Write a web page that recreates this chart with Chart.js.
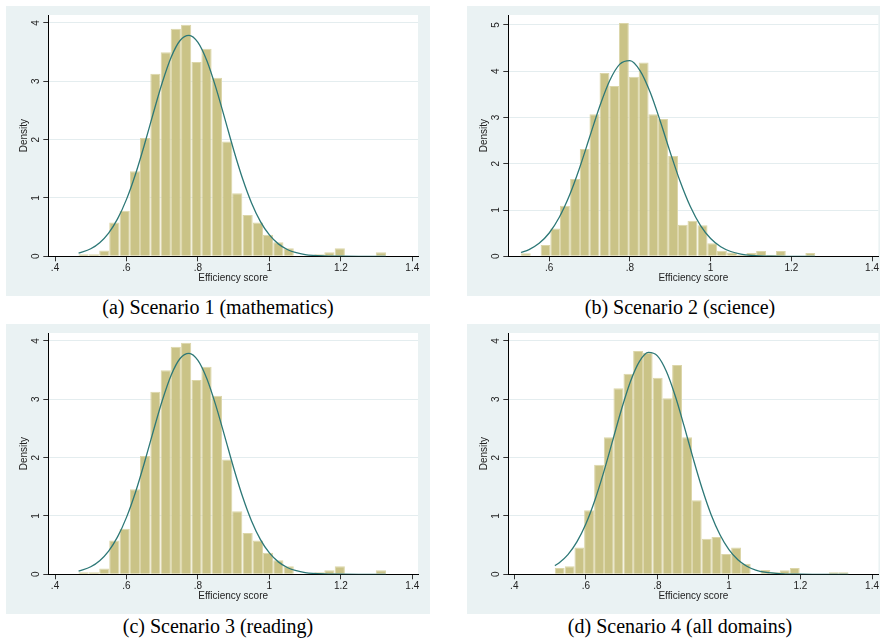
<!DOCTYPE html>
<html>
<head>
<meta charset="utf-8">
<title>Efficiency score histograms</title>
<script src="https://cdn.jsdelivr.net/npm/chart.js@4.4.0/dist/chart.umd.min.js"></script>
<style>
  body { margin: 0; background: #fff; width: 885px; height: 639px; position: relative; overflow: hidden; }
  canvas { position: absolute; }
  .cap { position: absolute; width: 400px; text-align: center; font-family: "Liberation Serif", "Times New Roman", serif; font-size: 20px; line-height: 20px; color: #000; white-space: nowrap; }
</style>
</head>
<body>
<canvas id="chartA" width="424" height="290" style="left:6px;top:6px"></canvas>
<canvas id="chartB" width="413" height="290" style="left:467px;top:6px"></canvas>
<canvas id="chartC" width="424" height="290" style="left:6px;top:324px"></canvas>
<canvas id="chartD" width="413" height="290" style="left:467px;top:324px"></canvas>
<div class="cap" style="left:18px;top:297px">(a) Scenario 1 (mathematics)</div>
<div class="cap" style="left:480px;top:297px">(b) Scenario 2 (science)</div>
<div class="cap" style="left:18px;top:616px">(c) Scenario 3 (reading)</div>
<div class="cap" style="left:480px;top:616px">(d) Scenario 4 (all domains)</div>
<script>
  // histogram bin centres and densities
  var mathBins = [0.480, 0.509, 0.538, 0.566, 0.595, 0.624, 0.652, 0.681, 0.710, 0.738,
                  0.767, 0.796, 0.824, 0.853, 0.882, 0.910, 0.939, 0.968, 0.996, 1.025,
                  1.054, 1.082, 1.111, 1.140, 1.168, 1.197, 1.226, 1.254, 1.283, 1.312];
  var mathDensity = [0.034, 0.034, 0.10, 0.58, 0.78, 1.46, 2.03, 3.13, 3.50, 3.90,
                     3.97, 3.33, 3.56, 3.06, 1.97, 1.08, 0.71, 0.58, 0.37, 0.24,
                     0.14, 0, 0, 0.034, 0.07, 0.14, 0, 0, 0, 0.07];

  var scienceBins = [0.542, 0.567, 0.591, 0.615, 0.639, 0.664, 0.688, 0.712, 0.737, 0.761,
                     0.785, 0.810, 0.834, 0.858, 0.882, 0.907, 0.931, 0.955, 0.980, 1.004,
                     1.028, 1.053, 1.077, 1.101, 1.125, 1.150, 1.174, 1.198, 1.223, 1.247];
  var scienceDensity = [0.065, 0, 0.245, 0.60, 1.09, 1.67, 2.32, 3.07, 3.96, 3.68,
                        5.04, 3.88, 4.19, 3.07, 2.97, 2.17, 0.68, 0.77, 0.67, 0.28,
                        0.12, 0.08, 0.036, 0.07, 0.115, 0.036, 0.115, 0, 0, 0.07];

  var readingBins = [0.480, 0.509, 0.538, 0.566, 0.595, 0.624, 0.652, 0.681, 0.710, 0.738,
                     0.767, 0.796, 0.824, 0.853, 0.882, 0.910, 0.939, 0.968, 0.996, 1.025,
                     1.054, 1.082, 1.111, 1.140, 1.168, 1.197, 1.226, 1.254, 1.283, 1.312];
  var readingDensity = [0.034, 0.034, 0.10, 0.58, 0.78, 1.46, 2.03, 3.13, 3.50, 3.90,
                        3.97, 3.33, 3.56, 3.06, 1.97, 1.08, 0.71, 0.58, 0.37, 0.24,
                        0.14, 0, 0, 0.034, 0.07, 0.14, 0, 0, 0, 0.07];

  var allBins = [0.527, 0.555, 0.582, 0.609, 0.637, 0.664, 0.691, 0.719, 0.746, 0.773,
                 0.801, 0.828, 0.855, 0.883, 0.910, 0.938, 0.965, 0.992, 1.020, 1.047,
                 1.074, 1.102, 1.129, 1.156, 1.184, 1.211, 1.238, 1.266, 1.293, 1.320];
  var allDensity = [0.11, 0.14, 0.46, 1.10, 1.88, 2.35, 3.19, 3.44, 3.83, 3.80,
                    3.37, 3.02, 3.59, 2.35, 1.27, 0.61, 0.64, 0.35, 0.46, 0.18,
                    0, 0.074, 0.034, 0.07, 0.11, 0, 0, 0, 0.034, 0.034];

  // normal density overlay
  var mathCurveX = [0.466, 0.5, 0.525, 0.55, 0.575, 0.6, 0.625, 0.65, 0.675, 0.7, 0.725, 0.75, 0.775, 0.8, 0.825,
                    0.85, 0.875, 0.9, 0.925, 0.95, 0.975, 1.0, 1.025, 1.05, 1.075, 1.1, 1.15, 1.2, 1.25, 1.326];
  var mathCurveY = [0.053, 0.129, 0.233, 0.398, 0.641, 0.976, 1.403, 1.909, 2.453, 2.976, 3.414, 3.700, 3.789, 3.667, 3.353,
                    2.897, 2.365, 1.823, 1.329, 0.915, 0.595, 0.366, 0.213, 0.117, 0.061, 0.030, 0.006, 0.001, 0, 0];

  var scienceCurveX = [0.53, 0.55, 0.575, 0.6, 0.625, 0.65, 0.675, 0.7, 0.725, 0.75, 0.775, 0.8, 0.825, 0.85,
                       0.875, 0.9, 0.925, 0.95, 0.975, 1.0, 1.025, 1.05, 1.075, 1.1, 1.15, 1.2, 1.259];
  var scienceCurveY = [0.082, 0.146, 0.281, 0.504, 0.843, 1.312, 1.903, 2.572, 3.238, 3.800, 4.154, 4.231, 4.015, 3.551,
                       2.925, 2.245, 1.605, 1.070, 0.664, 0.384, 0.207, 0.104, 0.049, 0.021, 0.003, 0, 0];

  var readingCurveX = [0.466, 0.5, 0.525, 0.55, 0.575, 0.6, 0.625, 0.65, 0.675, 0.7, 0.725, 0.75, 0.775, 0.8, 0.825,
                       0.85, 0.875, 0.9, 0.925, 0.95, 0.975, 1.0, 1.025, 1.05, 1.075, 1.1, 1.15, 1.2, 1.25, 1.326];
  var readingCurveY = [0.053, 0.129, 0.233, 0.398, 0.641, 0.976, 1.403, 1.909, 2.453, 2.976, 3.414, 3.700, 3.789, 3.667, 3.353,
                       2.897, 2.365, 1.823, 1.329, 0.915, 0.595, 0.366, 0.213, 0.117, 0.061, 0.030, 0.006, 0.001, 0, 0];

  var allCurveX = [0.5135, 0.525, 0.55, 0.575, 0.6, 0.625, 0.65, 0.675, 0.7, 0.725, 0.75, 0.775, 0.8, 0.825, 0.85,
                   0.875, 0.9, 0.925, 0.95, 0.975, 1.0, 1.025, 1.05, 1.075, 1.1, 1.15, 1.2, 1.25, 1.334];
  var allCurveY = [0.148, 0.194, 0.338, 0.555, 0.862, 1.265, 1.752, 2.292, 2.835, 3.311, 3.652, 3.805, 3.745, 3.481, 3.056,
                   2.535, 1.987, 1.471, 1.027, 0.678, 0.423, 0.249, 0.139, 0.073, 0.036, 0.008, 0.001, 0, 0];

  // axis ticks
  var xTicksWide = [0.4, 0.6, 0.8, 1.0, 1.2, 1.4];
  var xTicksNarrow = [0.6, 0.8, 1.0, 1.2, 1.4];
  var yTicksFour = [0, 1, 2, 3, 4];
  var yTicksFive = [0, 1, 2, 3, 4, 5];

  Chart.defaults.font.family = '"Liberation Sans", Arial, sans-serif';
  Chart.defaults.font.size = 10;
  Chart.defaults.color = '#222';

  var panelBackground = {
    id: 'panelBackground',
    beforeDraw: function(chart) {
      var ctx = chart.ctx, a = chart.chartArea;
      ctx.save();
      ctx.fillStyle = '#eaf2f3';
      ctx.fillRect(0, 0, chart.width, chart.height);
      ctx.fillStyle = '#ffffff';
      ctx.fillRect(a.left, a.top, a.right - a.left, a.bottom - a.top);
      ctx.restore();
    }
  };

  // Stata writes the y labels turned on their side
  var sidewaysYLabels = {
    id: 'sidewaysYLabels',
    afterDraw: function(chart) {
      var ctx = chart.ctx, ys = chart.scales.y;
      ctx.save();
      ctx.font = '10px "Liberation Sans", Arial, sans-serif';
      ctx.fillStyle = '#222';
      ctx.textAlign = 'center';
      ctx.textBaseline = 'middle';
      ys.ticks.forEach(function(t) {
        ctx.save();
        ctx.translate(chart.chartArea.left - 12, ys.getPixelForValue(t.value));
        ctx.rotate(-Math.PI / 2);
        ctx.fillText(String(t.value), 0, 0);
        ctx.restore();
      });
      ctx.restore();
    }
  };

  function stataLabel(v) {
    var s = String(Math.round(v * 10) / 10);
    return s.replace(/^0\./, '.');
  }

  function drawPanel(id, bins, density, curveX, curveY, p) {
    var bars = bins.map(function(x, i) { return {x: x, y: density[i]}; });
    var curve = curveX.map(function(x, i) { return {x: x, y: curveY[i]}; });
    new Chart(document.getElementById(id), {
      type: 'bar',
      data: {
        datasets: [{
          type: 'line',
          data: curve,
          borderColor: '#2d7877',
          borderWidth: 1.3,
          pointRadius: 0,
          cubicInterpolationMode: 'monotone',
          order: 1
        }, {
          data: bars,
          backgroundColor: '#cac387',
          borderColor: '#dcd6a9',
          borderWidth: 1,
          barPercentage: 1,
          categoryPercentage: 1.02,
          order: 2
        }]
      },
      options: {
        responsive: false,
        animation: false,
        devicePixelRatio: 1,
        layout: { padding: { top: p.top, right: p.right, left: 0, bottom: 0 } },
        plugins: { legend: { display: false }, tooltip: { enabled: false } },
        scales: {
          x: {
            type: 'linear',
            min: p.xMin,
            max: p.xMax,
            offset: false,
            afterBuildTicks: function(s) { s.ticks = p.xTicks.map(function(v) { return {value: v}; }); },
            afterFit: function(s) { s.height = p.xHeight; },
            ticks: { autoSkip: false, maxRotation: 0, padding: 1, callback: stataLabel },
            grid: { drawOnChartArea: false, offset: false, tickLength: 5, tickColor: '#333' },
            border: { color: '#000', width: 1 },
            title: { display: true, text: 'Efficiency score', padding: { top: 0, bottom: 12 }, font: { size: 10 } }
          },
          y: {
            min: 0,
            max: p.yMax,
            afterBuildTicks: function(s) { s.ticks = p.yTicks.map(function(v) { return {value: v}; }); },
            afterFit: function(s) { s.width = p.yWidth; },
            ticks: { display: false },
            grid: { color: '#e4edef', tickLength: 5, tickColor: '#333' },
            border: { color: '#000', width: 1 },
            title: { display: true, text: 'Density', padding: { top: p.titleLeft, bottom: 0 }, font: { size: 10 } }
          }
        }
      },
      plugins: [panelBackground, sidewaysYLabels]
    });
  }

  drawPanel('chartA', mathBins, mathDensity, mathCurveX, mathCurveY,
    { top: 9, right: 12, yWidth: 42.3, xHeight: 39.7, titleLeft: 12, xMin: 0.3812, xMax: 1.4159, yMax: 4.137, xTicks: xTicksWide, yTicks: yTicksFour });
  drawPanel('chartB', scienceBins, scienceDensity, scienceCurveX, scienceCurveY,
    { top: 9, right: 1, yWidth: 41.3, xHeight: 39.7, titleLeft: 11, xMin: 0.4986, xMax: 1.4157, yMax: 5.215, xTicks: xTicksNarrow, yTicks: yTicksFive });
  drawPanel('chartC', readingBins, readingDensity, readingCurveX, readingCurveY,
    { top: 9, right: 12, yWidth: 42.3, xHeight: 39.7, titleLeft: 12, xMin: 0.3812, xMax: 1.4159, yMax: 4.137, xTicks: xTicksWide, yTicks: yTicksFour });
  drawPanel('chartD', allBins, allDensity, allCurveX, allCurveY,
    { top: 9, right: 1, yWidth: 41.3, xHeight: 39.7, titleLeft: 11, xMin: 0.3833, xMax: 1.4179, yMax: 4.137, xTicks: xTicksWide, yTicks: yTicksFour });
</script>
</body>
</html>
